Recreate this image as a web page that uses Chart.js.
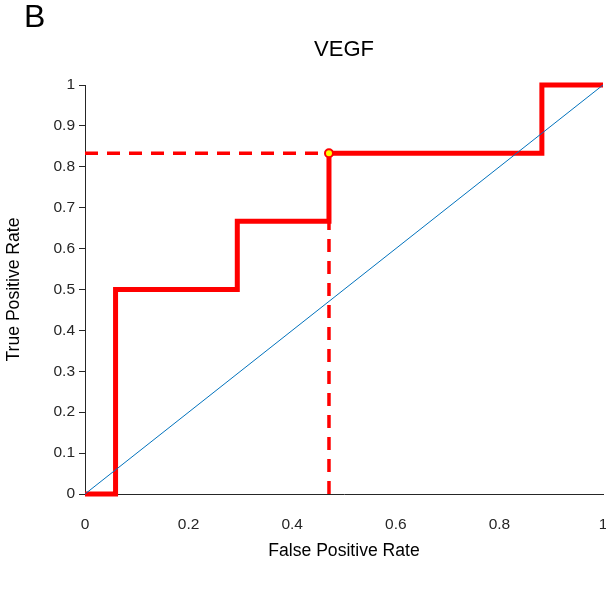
<!DOCTYPE html>
<html>
<head>
<meta charset="utf-8">
<script src="https://cdn.jsdelivr.net/npm/chart.js@4.4.1/dist/chart.umd.min.js"></script>
<style>
  html, body { margin: 0; padding: 0; background: #ffffff; }
  #wrap { position: relative; width: 606px; height: 589px; }
  #panel-label {
    position: absolute; left: 24px; top: 0px;
    font: 32px/32px "Liberation Sans", Arial, sans-serif; color: #000;
  }
</style>
</head>
<body>
<div id="wrap">
  <canvas id="rocChart" width="606" height="589"></canvas>
  <div id="panel-label">B</div>
</div>
<script>
// ROC curve for VEGF
const fprValues = [0, 0.059, 0.059, 0.294, 0.294, 0.471, 0.471, 0.882, 0.882, 1];
const tprValues = [0, 0, 0.5, 0.5, 0.667, 0.667, 0.833, 0.833, 1, 1];

// Optimal cut-off point and its guide lines
const cutoffFpr = [0.471];
const cutoffTpr = [0.833];

// Chance diagonal
const chanceX = [0, 1];
const chanceY = [0, 1];

const xTicks = [0, 0.2, 0.4, 0.6, 0.8, 1];
const xTickLabels = ['0', '0.2', '0.4', '0.6', '0.8', '1'];
const yTicks = [0, 0.1, 0.2, 0.3, 0.4, 0.5, 0.6, 0.7, 0.8, 0.9, 1];
const yTickLabels = ['0', '0.1', '0.2', '0.3', '0.4', '0.5', '0.6', '0.7', '0.8', '0.9', '1'];

const FONT = '"Liberation Sans", Arial, sans-serif';
const AXIS = '#262626';

const toPoints = (xs, ys) => xs.map((x, i) => ({ x: x, y: ys[i] }));

new Chart(document.getElementById("rocChart").getContext("2d"), {
  type: 'scatter',
  data: {
    datasets: [
      {
        label: 'Optimal cut-off',
        data: toPoints(cutoffFpr, cutoffTpr),
        backgroundColor: '#FFFF00',
        borderColor: '#FF0000',
        borderWidth: 2,
        pointRadius: 4,
        order: 0,
        clip: false
      },
      {
        label: 'Chance',
        data: toPoints(chanceX, chanceY),
        showLine: true,
        borderColor: '#0072BD',
        borderWidth: 1,
        pointRadius: 0,
        order: 1,
        clip: false
      },
      {
        label: 'Cut-off FPR',
        data: [{ x: cutoffFpr[0], y: 0 }, { x: cutoffFpr[0], y: cutoffTpr[0] }],
        showLine: true,
        borderColor: '#FF0000',
        borderWidth: 3.5,
        borderDash: [13, 9],
        pointRadius: 0,
        order: 2,
        clip: false
      },
      {
        label: 'Cut-off TPR',
        data: [{ x: 0, y: cutoffTpr[0] }, { x: cutoffFpr[0], y: cutoffTpr[0] }],
        showLine: true,
        borderColor: '#FF0000',
        borderWidth: 3.5,
        borderDash: [13, 9],
        pointRadius: 0,
        order: 2,
        clip: false
      },
      {
        label: 'ROC',
        data: toPoints(fprValues, tprValues),
        showLine: true,
        borderColor: '#FF0000',
        borderWidth: 5,
        borderJoinStyle: 'miter',
        pointRadius: 0,
        order: 3,
        clip: false
      }
    ]
  },
  options: {
    responsive: false,
    animation: false,
    events: [],
    // the cut-off marker would otherwise push the plot edge inwards
    layout: { padding: 0, autoPadding: false },
    plugins: {
      legend: { display: false },
      tooltip: { enabled: false },
      title: {
        display: true,
        text: 'VEGF',
        fullSize: false,
        color: '#000',
        font: { family: FONT, size: 22, weight: 'normal' },
        padding: { top: 36.8, bottom: 21.8 }
      }
    },
    scales: {
      x: {
        type: 'linear',
        min: 0, max: 1,
        afterBuildTicks: s => { s.ticks = xTicks.map(v => ({ value: v })); },
        afterFit: s => { s.height = 95; s.paddingLeft = 0; s.paddingRight = 3; },
        grid: { display: false },
        border: { display: true, color: AXIS, width: 1 },
        ticks: {
          color: AXIS, padding: 13, maxRotation: 0,
          font: { family: FONT, size: 15.5 },
          callback: (v, i) => xTickLabels[i]
        },
        title: {
          display: true,
          text: 'False Positive Rate',
          color: '#000',
          font: { family: FONT, size: 17.6 },
          padding: { top: 0, bottom: 27.4 }
        }
      },
      y: {
        type: 'linear',
        min: 0, max: 1,
        afterBuildTicks: s => { s.ticks = yTicks.map(v => ({ value: v })); },
        afterFit: s => { s.width = 85; },
        grid: { drawOnChartArea: false, drawTicks: true, tickLength: 6, color: AXIS },
        border: { display: true, color: AXIS, width: 1 },
        ticks: {
          color: AXIS, padding: 4,
          font: { family: FONT, size: 15.5 },
          callback: (v, i) => yTickLabels[i]
        },
        title: {
          display: true,
          text: 'True Positive Rate',
          color: '#000',
          font: { family: FONT, size: 17.6 },
          padding: { top: 3.4, bottom: 0 }
        }
      }
    }
  }
});
</script>
</body>
</html>
